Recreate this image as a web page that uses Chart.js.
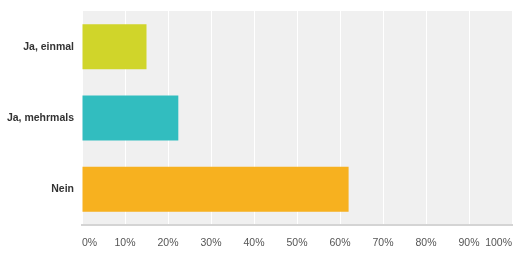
<!DOCTYPE html>
<html>
<head>
<meta charset="utf-8">
<script src="https://cdn.jsdelivr.net/npm/chart.js@4/dist/chart.umd.min.js"></script>
<style>
	html, body { margin: 0; padding: 0; background: #fff; }
	#wrap { width: 522px; height: 253px; }
</style>
</head>
<body>
<div id="wrap"><canvas id="myChart" width="522" height="253"></canvas></div>
<script>
var labels = ["Ja, einmal", "Ja, mehrmals", "Nein"];
var values = [15.0, 22.4, 62.0];
var colorhex = ["#d0d52a", "#32bdbf", "#f7b11f"];
var tickStep = 10;

// 플롯 배경
var plotBg = {
	id: "plotBg",
	beforeDraw: function (chart) {
		var a = chart.chartArea;
		var c = chart.ctx;
		c.save();
		c.fillStyle = "#f0f0f0";
		c.fillRect(a.left, a.top, a.right - a.left, a.bottom - a.top);
		c.restore();
	}
};

var ctx = document.getElementById("myChart").getContext("2d");
var myChart = new Chart(ctx, {
	type: "bar",
	data: {
		labels: labels,
		datasets: [{
			data: values,
			backgroundColor: colorhex,
			barPercentage: 0.63,
			categoryPercentage: 1
		}]
	},
	plugins: [plotBg],
	options: {
		indexAxis: "y",
		responsive: false,
		animation: false,
		events: [],
		layout: { padding: { top: 11, right: 10, left: 0, bottom: 0 } },
		plugins: { legend: { display: false }, tooltip: { enabled: false } },
		scales: {
			x: {
				min: 0,
				max: 100,
				ticks: {
					stepSize: tickStep,
					align: "inner",
					padding: 12,
					color: "#555",
					font: { family: "Liberation Sans, Arial", size: 10.5 },
					callback: function (v) { return v + "%"; }
				},
				grid: { color: "#ffffff", lineWidth: 1, drawTicks: false },
				border: { display: true, color: "#d4d4d4", width: 2 },
				afterFit: function (s) {
					s.height = 28;
					s.paddingLeft = 0;
					s.paddingRight = 0;
				}
			},
			y: {
				ticks: {
					padding: 8,
					color: "#333",
					font: { family: "Liberation Sans, Arial", size: 10.5, weight: "bold" }
				},
				grid: { display: false, drawTicks: false },
				border: { display: false },
				afterFit: function (s) {
					s.width = 82;
					s.paddingTop = 0;
					s.paddingBottom = 0;
				}
			}
		}
	}
});
</script>
</body>
</html>
